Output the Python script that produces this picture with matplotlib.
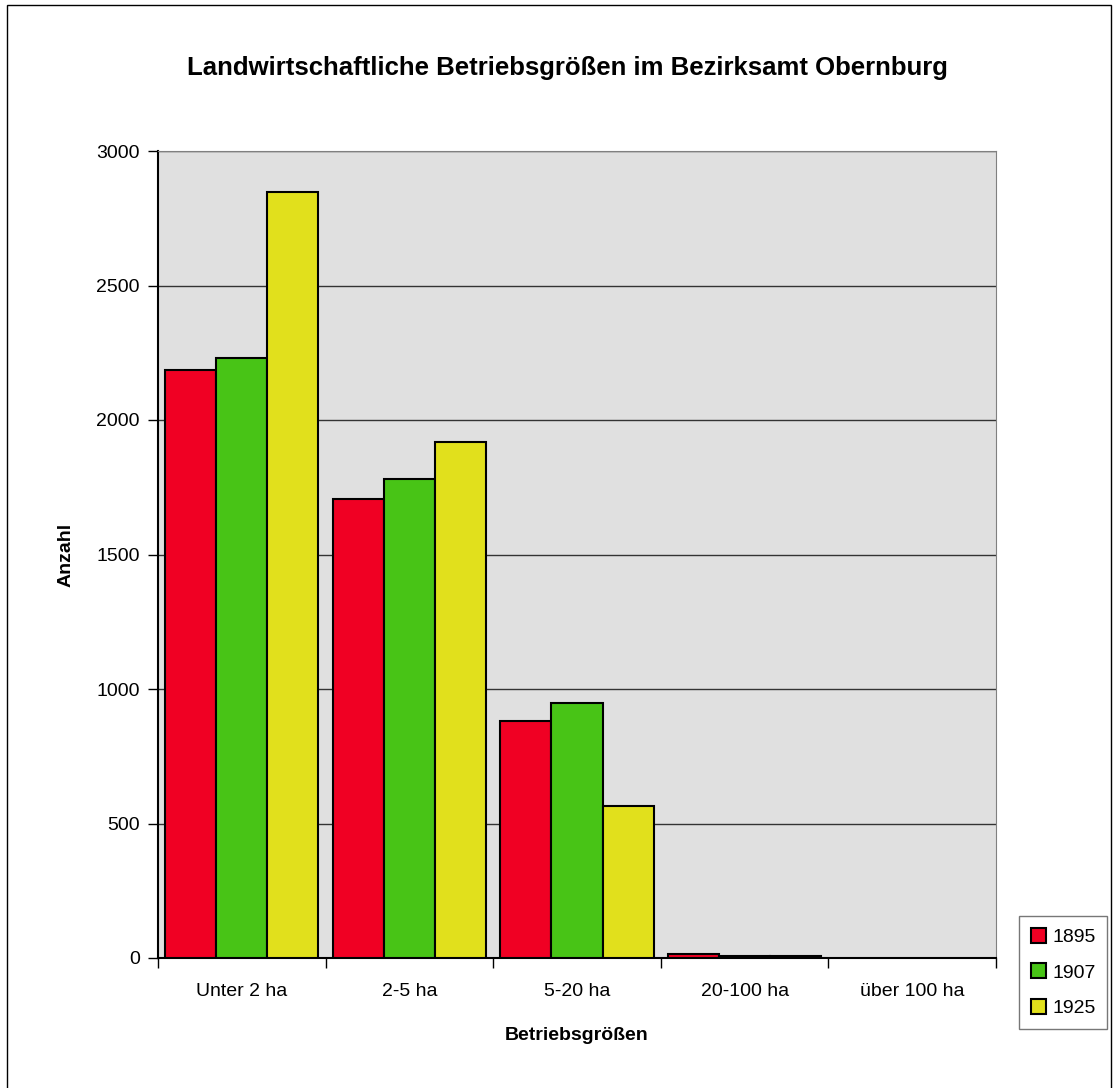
import matplotlib.pyplot as plt
import numpy as np
from matplotlib.patches import Rectangle, Patch

plt.rcParams['font.family'] = ['Liberation Sans', 'DejaVu Sans']

categories = ['Unter 2 ha', '2-5 ha', '5-20 ha', '20-100 ha', 'über 100 ha']
years = ['1895', '1907', '1925']
v1895 = [2187, 1705, 880, 15, 0]
v1907 = [2232, 1780, 948, 7, 0]
v1925 = [2846, 1919, 566, 7, 0]
colors = ['#f00023', '#48c416', '#e1e01c']

W, H = 1117, 1088
fig = plt.figure(figsize=(W / 100, H / 100), dpi=100)
ax = fig.add_axes([158 / W, 1 - 958 / H, (996 - 158) / W, (958 - 151) / H])
ax.set_facecolor('#e0e0e0')

x = np.arange(len(categories))
bw = 0.305
for i, (vals, col, yr) in enumerate(zip([v1895, v1907, v1925], colors, years)):
    vals = np.array(vals, dtype=float)
    vals[vals == 0] = np.nan  # zero bars are not drawn at all
    ax.bar(x + (i - 1) * bw, vals, bw, color=col, edgecolor='black',
           linewidth=1.5, label=yr, zorder=3)

ax.set_xlim(-0.5, len(categories) - 0.5)
ax.set_ylim(0, 3000)
ax.set_yticks(np.arange(0, 3001, 500))
ax.yaxis.grid(True, color='#333333', linewidth=1, zorder=1)
ax.set_xticks(x)
ax.set_xticklabels(categories)
ax.set_xticks(np.arange(-0.5, len(categories), 1), minor=True)
ax.tick_params(axis='x', which='major', length=0, pad=18, labelsize=14)
ax.tick_params(axis='x', which='minor', length=7, direction='out', width=1)
ax.tick_params(axis='y', length=7, direction='out', width=1, labelsize=14, pad=6)

for side in ['top', 'right']:
    ax.spines[side].set_color('#808080')
for side in ['left', 'bottom']:
    ax.spines[side].set_color('black')
    ax.spines[side].set_linewidth(1.5)

fig.text(567 / W, 1 - 68 / H, 'Landwirtschaftliche Betriebsgrößen im Bezirksamt Obernburg',
         ha='center', va='center', fontsize=18.5, fontweight='bold')
fig.text(66 / W, 1 - 555 / H, 'Anzahl', ha='center', va='center',
         rotation=90, fontsize=14, fontweight='bold')
fig.text(577 / W, 1 - 1035 / H, 'Betriebsgrößen', ha='center', va='center',
         fontsize=14, fontweight='bold')

handles = [Patch(facecolor=c, edgecolor='black', linewidth=1.5) for c in colors]
leg = fig.legend(handles, years, loc='upper left',
                 bbox_to_anchor=(1019 / W, 1 - 916 / H), fontsize=14,
                 frameon=True, fancybox=False, handlelength=0.8, handleheight=0.8,
                 handletextpad=0.3, labelspacing=0.9, borderpad=0.6,
                 borderaxespad=0)
leg.get_frame().set_edgecolor('#555555')
leg.get_frame().set_linewidth(1)

fig.patches.append(Rectangle((7 / W, -0.01), (1111 - 7) / W, 1 - 5 / H + 0.01,
                             transform=fig.transFigure, fill=False,
                             edgecolor='black', linewidth=1))

fig.savefig('out.png', dpi=100)
